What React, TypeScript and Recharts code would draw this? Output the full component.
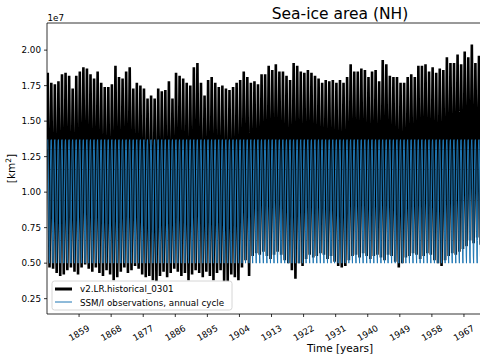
import React from "react";
import { LineChart, Line, XAxis, YAxis, ReferenceLine } from "recharts";

// yearly values, units of 1e7 km^2
const startYear = 1850;
const modelMax = [
  1.84, 1.77, 1.76, 1.78, 1.83, 1.84, 1.82, 1.73, 1.82, 1.85,
  1.88, 1.87, 1.83, 1.8, 1.85, 1.77, 1.74, 1.74, 1.76, 1.89,
  1.81, 1.8, 1.85, 1.88, 1.73, 1.77, 1.75, 1.73, 1.66, 1.68,
  1.66, 1.73, 1.71, 1.72, 1.78, 1.66, 1.84, 1.82, 1.8, 1.77,
  1.75, 1.88, 1.91, 1.77, 1.68, 1.79, 1.81, 1.77, 1.74, 1.75,
  1.73, 1.72, 1.74, 1.77, 1.79, 1.85, 1.81, 1.77, 1.78, 1.76,
  1.83, 1.83, 1.89, 1.86, 1.9, 1.85, 1.85, 1.82, 1.79, 1.91,
  1.89, 1.85, 1.84, 1.86, 1.84, 1.82, 1.8, 1.77, 1.79, 1.78,
  1.79, 1.77, 1.79, 1.77, 1.81, 1.9, 1.85, 1.85, 1.87, 1.86,
  1.81, 1.85, 1.86, 1.78, 1.93, 1.9, 1.82, 1.81, 1.81, 1.77,
  1.77, 1.81, 1.83, 1.81, 1.89, 1.89, 1.9, 1.85, 1.88, 1.84,
  1.87, 1.86, 1.95, 1.91, 1.91, 1.97, 1.9, 1.99, 1.95, 2.04,
  1.91, 1.96,
];
const modelMin = [
  0.47, 0.46, 0.43, 0.41, 0.42, 0.45, 0.47, 0.44, 0.42, 0.47,
  0.49, 0.46, 0.44, 0.47, 0.43, 0.41, 0.45, 0.42, 0.38, 0.4,
  0.44, 0.47, 0.43, 0.45, 0.48, 0.46, 0.42, 0.4, 0.41, 0.38,
  0.37, 0.41, 0.44, 0.4, 0.43, 0.46, 0.44, 0.41, 0.43, 0.38,
  0.42, 0.45, 0.43, 0.4, 0.44, 0.41, 0.38, 0.43, 0.45, 0.37,
  0.37, 0.42, 0.4, 0.38, 0.47, 0.52, 0.41, 0.55, 0.57, 0.56,
  0.58, 0.55, 0.53, 0.56, 0.58, 0.56, 0.52, 0.5, 0.45, 0.39,
  0.5, 0.48, 0.53, 0.56, 0.54, 0.55, 0.57, 0.56, 0.53, 0.55,
  0.51, 0.48, 0.47, 0.48, 0.52, 0.55, 0.56, 0.54, 0.57, 0.55,
  0.53, 0.55, 0.56, 0.54, 0.52, 0.56, 0.55, 0.51, 0.47, 0.5,
  0.54, 0.55, 0.57, 0.56, 0.53, 0.55, 0.57, 0.56, 0.52, 0.5,
  0.48, 0.52, 0.55, 0.57, 0.56, 0.58, 0.6, 0.62, 0.66, 0.64,
  0.68, 0.63,
];
// observed climatology, Jan..Dec
const obsCycle = [1.3, 1.36, 1.37, 1.3, 1.17, 0.98, 0.72, 0.55, 0.5, 0.66, 0.94, 1.16];
const xTicks = [1859, 1868, 1877, 1886, 1895, 1904, 1913, 1922, 1931, 1940, 1949, 1958, 1967];
const yTicks = [0.25, 0.5, 0.75, 1.0, 1.25, 1.5, 1.75, 2.0];

const rows: { t: number; obs: number; model: number | null }[] = [];
modelMax.forEach((mx, i) => {
  obsCycle.forEach((v, m) => {
    rows.push({
      t: startYear + i + (m + 0.5) / 12,
      obs: v,
      model: m === 2 ? mx : m === 8 ? modelMin[i] : null,
    });
  });
});

const FONT = "DejaVu Sans, sans-serif";

const XTick = ({ x, y, payload }: any) => (
  <g transform={`translate(${x},${y + 13})`}>
    <text
      transform="rotate(-30)"
      textAnchor="middle"
      dominantBaseline="central"
      fontSize={8.75}
      fill="#000"
      fontFamily={FONT}
    >
      {payload.value}
    </text>
  </g>
);

export default function App() {
  return (
    <div
      style={{ position: "absolute", left: 0, top: 0, width: 480, height: 360, fontFamily: FONT, background: "#fff" }}
    >
      <LineChart width={480} height={360} data={rows} margin={{ top: 23, right: 0, bottom: 0, left: 0 }}>
        <XAxis
          type="number"
          dataKey="t"
          domain={[1850, 1971.5]}
          ticks={xTicks}
          interval={0}
          allowDataOverflow
          height={46}
          tickSize={3}
          tickMargin={3}
          tick={<XTick />}
          axisLine={{ stroke: "#000", strokeWidth: 0.8 }}
          tickLine={{ stroke: "#000", strokeWidth: 0.8 }}
        />
        <YAxis
          type="number"
          domain={[0.142, 2.191]}
          ticks={yTicks}
          interval={0}
          allowDataOverflow
          width={47}
          tickSize={3}
          tickMargin={3}
          tickFormatter={(v: number) => v.toFixed(2)}
          tick={{ fontSize: 8.75, fill: "#000", fontFamily: FONT }}
          axisLine={{ stroke: "#000", strokeWidth: 0.8 }}
          tickLine={{ stroke: "#000", strokeWidth: 0.8 }}
        />
        <ReferenceLine y={2.191} stroke="#000" strokeWidth={0.8} />
        <Line
          dataKey="model"
          stroke="#000"
          strokeWidth={2.6}
          dot={false}
          connectNulls
          isAnimationActive={false}
        />
        <Line dataKey="obs" stroke="#1f77b4" strokeWidth={1} dot={false} isAnimationActive={false} />
      </LineChart>
      <svg
        width={480}
        height={360}
        style={{ position: "absolute", left: 0, top: 0, pointerEvents: "none" }}
        fontFamily={FONT}
      >
        <text x={340} y={18.5} textAnchor="middle" fontSize={15.5} fill="#000">
          Sea-ice area (NH)
        </text>
        <text x={47.5} y={21} fontSize={8.75} fill="#000">
          1e7
        </text>
        <text x={340} y={352} textAnchor="middle" fontSize={10.5} fill="#000">
          Time [years]
        </text>
        <text transform="translate(15,168.5) rotate(-90)" textAnchor="middle" fontSize={10.5} fill="#000">
          [km<tspan dy={-4} fontSize={7.5}>2</tspan>
          <tspan dy={4}>]</tspan>
        </text>
        <rect x={52} y={281} width={180} height={29} rx={2.5} fill="#fff" fillOpacity={0.8} stroke="#ccc" strokeWidth={0.8} />
        <line x1={55} y1={289} x2={72} y2={289} stroke="#000" strokeWidth={3} />
        <text x={80} y={292} fontSize={8.75} fill="#000">
          v2.LR.historical_0301
        </text>
        <line x1={55} y1={302} x2={72} y2={302} stroke="#1f77b4" strokeWidth={1} />
        <text x={80} y={305.5} fontSize={8.75} fill="#000">
          SSM/I observations, annual cycle
        </text>
      </svg>
    </div>
  );
}
